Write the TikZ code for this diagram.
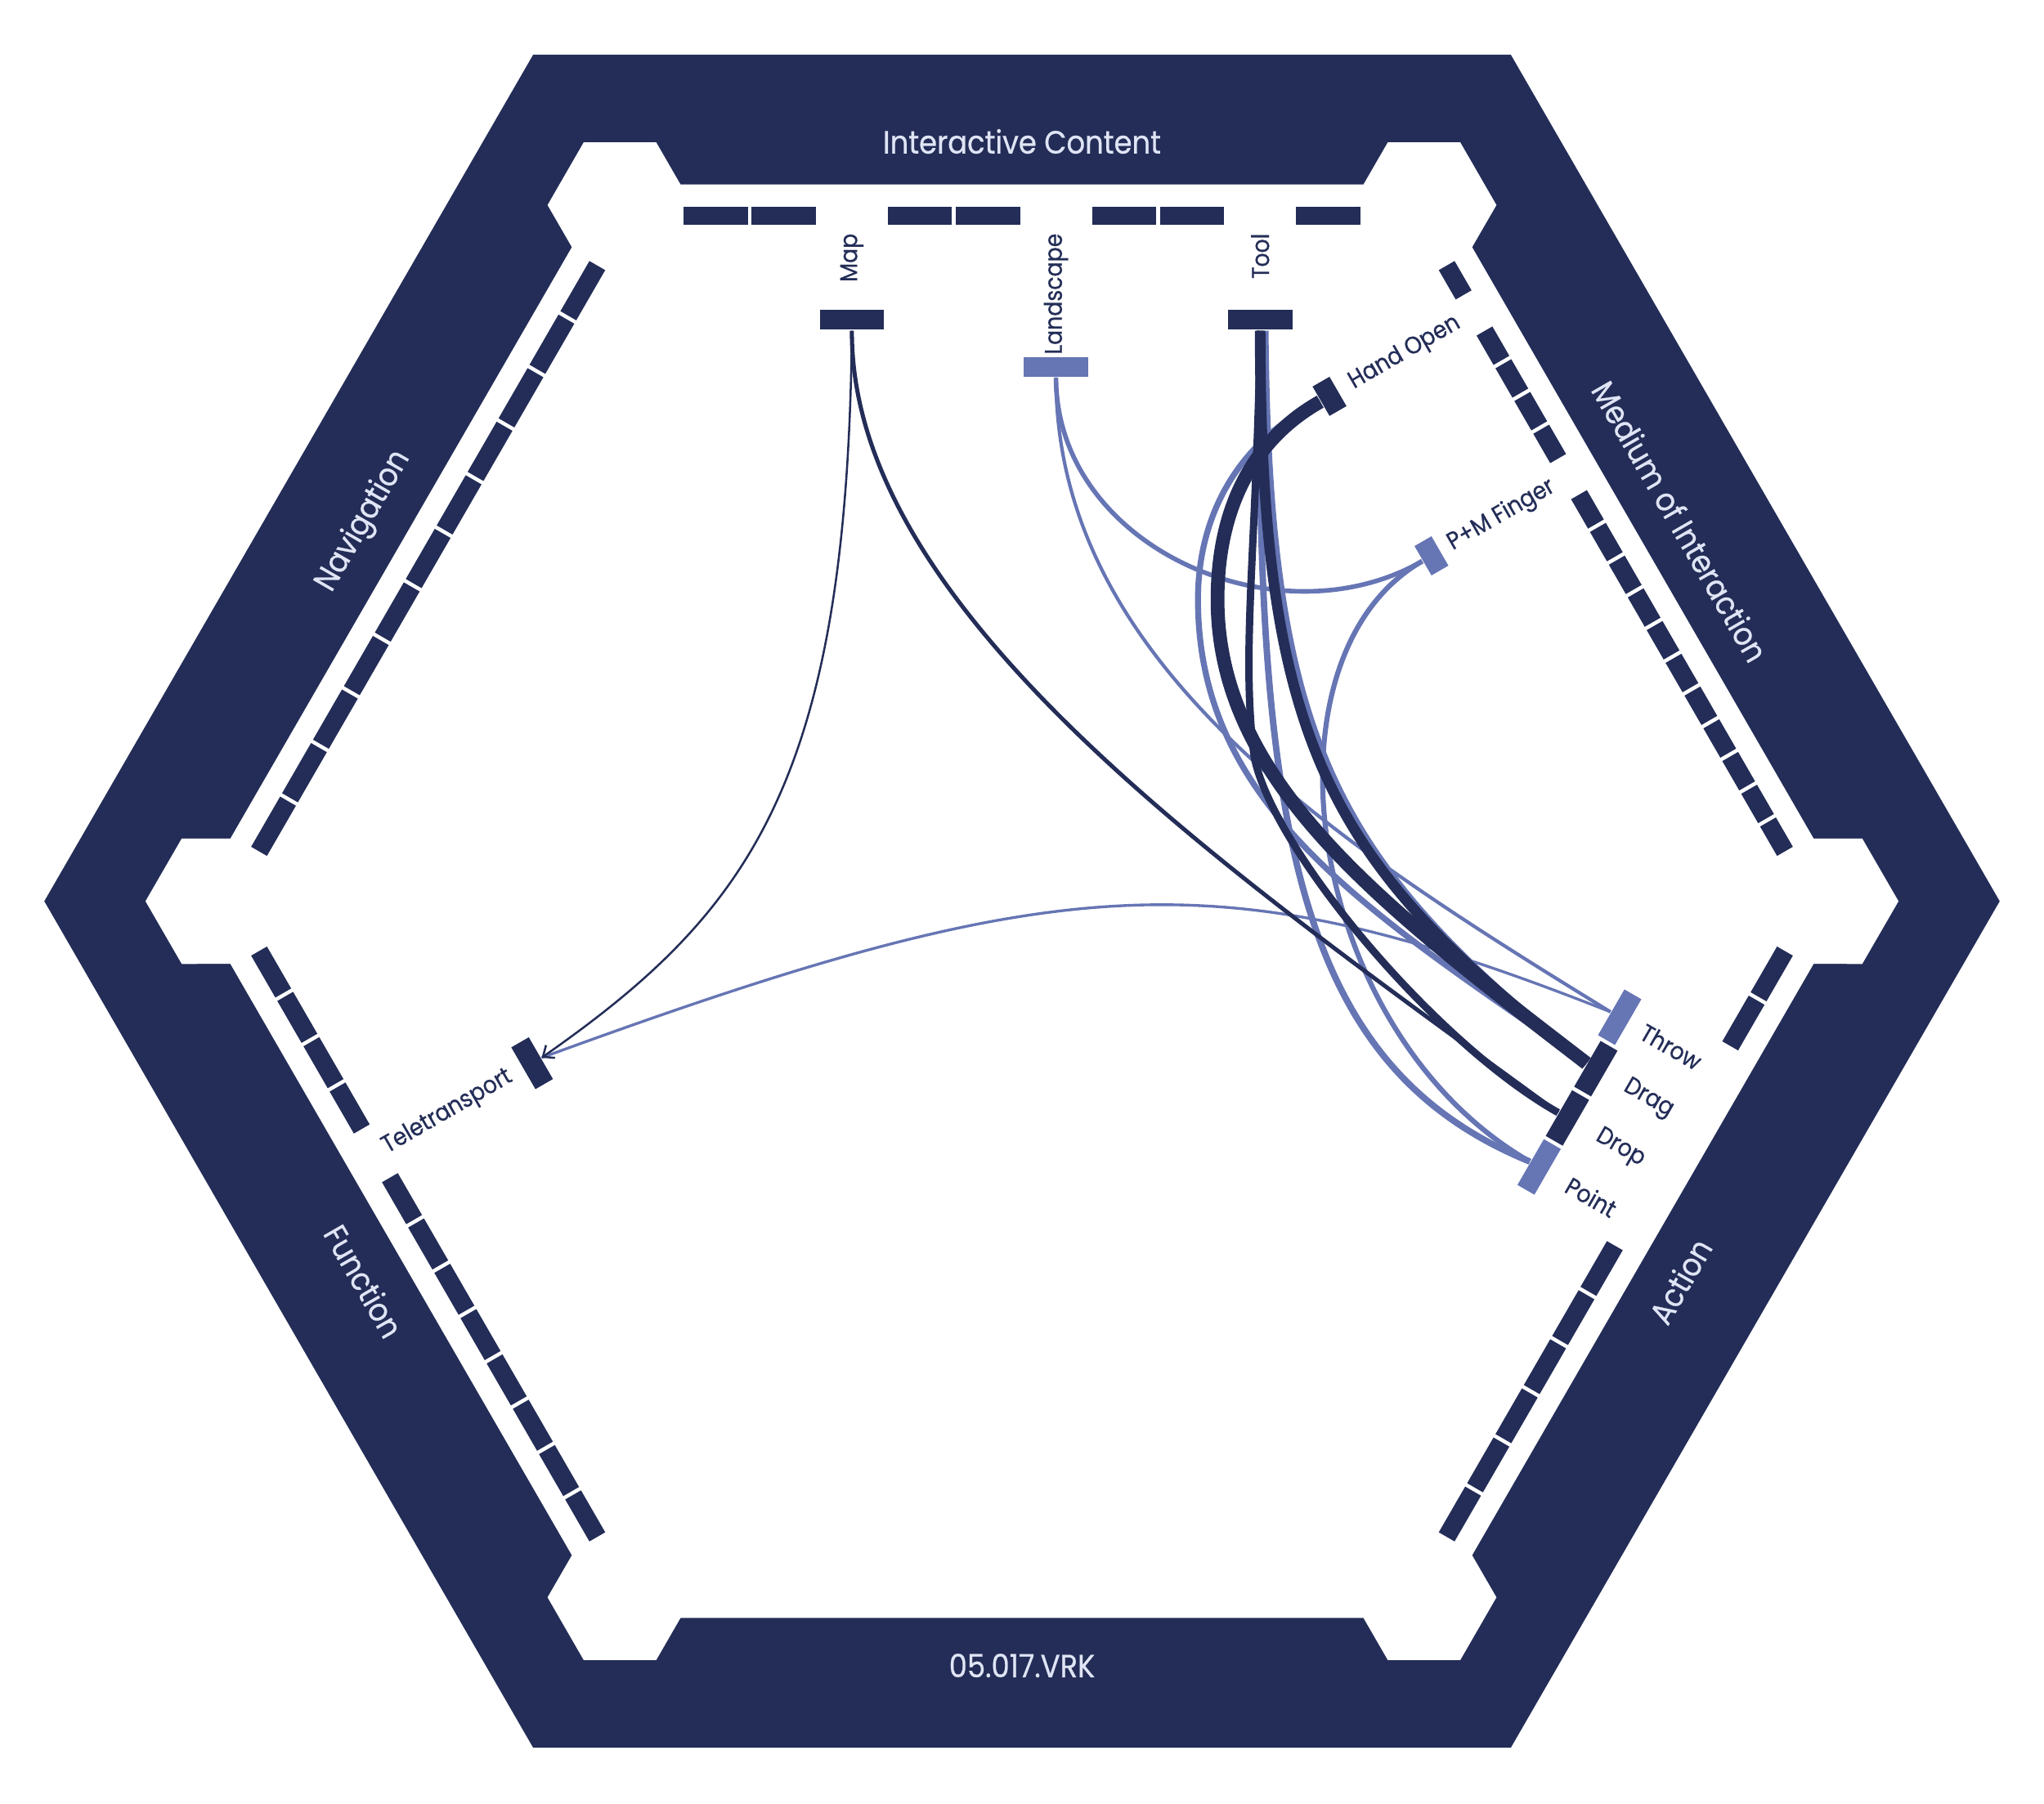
\documentclass[tikz,border=0pt]{standalone}
\usepackage{fontspec}
\setmainfont{Poppins}[FakeStretch=0.9]
\newfontfamily\medfont{Poppins}[FakeStretch=0.9, FakeBold=0.6]
\usetikzlibrary{arrows.meta}
\definecolor{navy}{HTML}{232D57}
\definecolor{lite}{HTML}{6675B4}
\definecolor{bandtext}{HTML}{DFE5F5}
\pgfdeclarelayer{back}
\pgfdeclarelayer{mid}
\pgfsetlayers{back,mid,main}
\newcommand\slotbar[3]{%
  \foreach \i in {#3}
    \fill[navy, rotate around={#1:(784,691.5)}] ({523+\i*522/#2+1.5},158.5) rectangle ({523+(\i+1)*522/#2-1.5},172.5);
}
\begin{document}
\begin{tikzpicture}[x=0.01cm,y=-0.01cm,
  box/.style={rectangle, inner sep=0pt, minimum height=0.15cm},
  topbox/.style={box, minimum width=0.492cm},
  medbox/.style={box, minimum width=0.26cm, rotate=-60},
  actbox/.style={box, minimum width=0.405cm, rotate=-120},
  funbox/.style={box, minimum width=0.37cm, minimum height=0.155cm, rotate=120},
  lbl/.style={text=navy, inner sep=0pt, font=\medfont\fontsize{5.3}{6}\selectfont},
  band/.style={text=bandtext, inner sep=0pt, font=\medfont\fontsize{7}{8}\selectfont},
  darkline/.style={draw=navy, line cap=butt},
  liteline/.style={draw=lite, line cap=butt},
]
\useasboundingbox (0,0) rectangle (1568,1384);
\begin{pgfonlayer}{back}
  \fill[white] (0,0) rectangle (1568,1384);
  \fill[navy] (1534,691.5) -- (1159,1341) -- (409,1341) -- (34,691.5) -- (409,42) -- (1159,42) -- cycle;
  \begin{scope}[shift={(784,691.5)}]
    \fill[white] (-115.47:609.2)
      \foreach \k in {0,...,5} {
        -- ({-115.47-60*\k}:609.2) -- ({-115.73-60*\k}:646.4) -- ({-120-60*\k}:672.4)
        -- ({-124.27-60*\k}:646.4) -- ({-124.53-60*\k}:609.2)
      } -- cycle;
  \end{scope}
  \slotbar{0}{10}{0,1,3,4,6,7,9}
  \slotbar{-60}{18}{0,2,3,4,5,7,8,...,17}
  \slotbar{-120}{12}{0,1,6,7,8,9,10,11}
  \slotbar{120}{13}{0,...,7,9,10,11,12}
  \slotbar{60}{11}{0,...,10}
\end{pgfonlayer}
% band titles
\node[band] (tIC) at (784,108.5) {Interactive Content};
\node[band, rotate=-60] (tMI) at (1288.9,400) {Medium of Interaction};
\node[band, rotate=60] (tAC) at (1288.9,983) {Action};
\node[band] (tVRK) at (784,1278) {05.017.VRK};
\node[band, rotate=-60] (tFU) at (279.1,983) {Function};
\node[band, rotate=60] (tNA) at (279.1,400) {Navigation};
% nodes
\node[topbox, fill=navy] (map) at (653.5,245.5) {};
\node[topbox, fill=lite] (land) at (810.1,281.5) {};
\node[topbox, fill=navy] (tool) at (966.7,245.5) {};
\node[medbox, fill=navy] (hand) at (1019.9,304.1) {};
\node[medbox, fill=lite] (pm) at (1098.1,426.5) {};
\node[actbox, fill=lite] (throw) at (1242.5,780.5) {};
\node[actbox, fill=navy] (drag) at (1224.2,820) {};
\node[actbox, fill=navy] (drop) at (1202.4,857.8) {};
\node[actbox, fill=lite] (point) at (1180.7,895.4) {};
\node[funbox, fill=navy] (tele) at (408.2,815.8) {};
% labels
\node[lbl, rotate=90, anchor=east] (mapL) at (653.5,178.5) {Map};
\node[lbl, rotate=90, anchor=east] (landL) at (810.1,178.5) {Landscape};
\node[lbl, rotate=90, anchor=east] (toolL) at (966.7,178.5) {Tool};
\node[lbl, rotate=30, anchor=east] (handL) at (1119.5,246.6) {Hand Open};
\node[lbl, rotate=30, anchor=east] (pmL) at (1192,372.2) {P+M Finger};
\node[lbl, rotate=-30, anchor=east] (throwL) at (1304.4,816.2) {Throw};
\node[lbl, rotate=-30, anchor=east] (dragL) at (1282.7,853.8) {Drag};
\node[lbl, rotate=-30, anchor=east] (dropL) at (1260.9,891.5) {Drop};
\node[lbl, rotate=-30, anchor=east] (pointL) at (1239.2,929.2) {Point};
\node[lbl, rotate=30, anchor=west] (teleL) at (294.35,881.5) {Teletransport};
% connectors
\begin{pgfonlayer}{mid}
 \draw[liteline, line width=0.6pt] (throw.south) .. controls (937,658.5) and (816,665) .. (tele.south);
 \draw[liteline, line width=0.75pt] (land.south) .. controls (810,509) and (1023,646) .. (throw.south);
 \draw[liteline, line width=1pt] (land.south) .. controls (810,419) and (979.4,494.6) .. (pm.south);
 \draw[liteline, line width=1.1pt] (pm.south) .. controls (962,504.6) and (1000.8,792) .. (point.south);
 \draw[liteline, line width=1.4pt] (tool.south) .. controls (962,650) and (1000,820) .. (point.south);
 \draw[liteline, line width=1.3pt] (hand.south) .. controls (955,335) and (919,390) .. (919,460) .. controls (919,620) and (1050,700) .. (drag.south);
 \draw[liteline, line width=1.1pt] ([xshift=0.045cm]tool.south) .. controls (974,574) and (1026,660) .. (drag.south);
 \draw[darkline, line width=0.45pt, -{Straight Barb[length=2pt,width=3.4pt]}] (map.south) .. controls (650,600) and (575,700) .. (tele.south);
 \draw[darkline, line width=0.9pt] (map.south) .. controls (652.5,473) and (954,677) .. (drop.south);
 \draw[darkline, line width=1.6pt] (tool.south) .. controls (964,420) and (952,500) .. (962,580) .. controls (975,650) and (1100,800) .. (drop.south);
 \draw[darkline, line width=2.3pt] (tool.south) .. controls (967,574) and (1020.7,664.2) .. (drag.south);
 \draw[darkline, line width=3pt] (hand.south) .. controls (965,335) and (934,385) .. (934,460) .. controls (934,600) and (1060,695) .. (drag.south);
\end{pgfonlayer}
\end{tikzpicture}
\end{document}
